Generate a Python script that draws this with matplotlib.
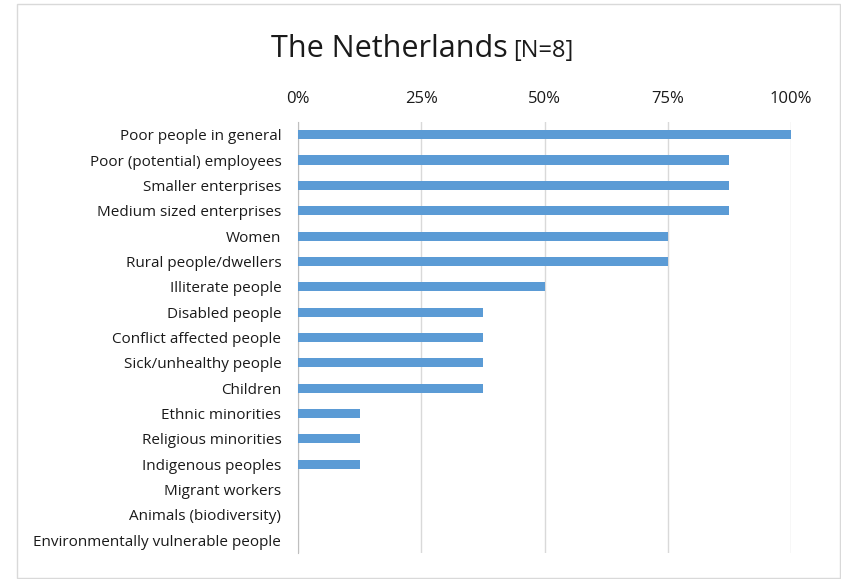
import matplotlib.pyplot as plt
from matplotlib.patches import Rectangle
from matplotlib.ticker import PercentFormatter

categories = [
    "Poor people in general",
    "Poor (potential) employees",
    "Smaller enterprises",
    "Medium sized enterprises",
    "Women",
    "Rural people/dwellers",
    "Illiterate people",
    "Disabled people",
    "Conflict affected people",
    "Sick/unhealthy people",
    "Children",
    "Ethnic minorities",
    "Religious minorities",
    "Indigenous peoples",
    "Migrant workers",
    "Animals (biodiversity)",
    "Environmentally vulnerable people",
]
shares = [100, 87.5, 87.5, 87.5, 75, 75, 50, 37.5, 37.5, 37.5, 37.5,
          12.5, 12.5, 12.5, 0, 0, 0]
ticks = [0, 25, 50, 75, 100]

plt.rcParams['font.family'] = ['Open Sans', 'DejaVu Sans']
txt = '#1a1a1a'

W, H = 841, 579
fig = plt.figure(figsize=(W / 100, H / 100), dpi=100)

# chart frame
fig.patches.append(Rectangle((16.5 / W, 1 - 578 / H), 823.5 / W, 574 / H,
                             transform=fig.transFigure, fill=False,
                             edgecolor='#d9d9d9', linewidth=1))

ax = fig.add_axes([298 / W, 1 - 553 / H, 493 / W, 431 / H])
y = range(len(categories))
ax.barh(y, shares, height=0.36, color='#5b9bd5', zorder=3)

ax.set_xlim(0, 100)
ax.set_ylim(len(categories) - 0.5, -0.5)
ax.set_yticks(list(y))
ax.set_yticklabels(categories, fontsize=11)
ax.set_xticks(ticks)
ax.xaxis.set_major_formatter(PercentFormatter(decimals=0))
ax.xaxis.tick_top()
ax.tick_params(axis='x', labelsize=12, length=0, pad=11, colors=txt)
ax.tick_params(axis='y', length=0, pad=12, colors=txt)
ax.grid(axis='x', color='#d9d9d9', linewidth=1, zorder=0)
for side in ['top', 'right', 'bottom']:
    ax.spines[side].set_visible(False)
ax.spines['left'].set_color('#bfbfbf')

fig.text(508 / W, 1 - 57 / H, "The Netherlands", fontsize=22, ha='right',
         va='baseline', color=txt)
fig.text(513 / W, 1 - 57 / H, "[N=8]", fontsize=17, ha='left',
         va='baseline', color=txt)

fig.savefig("out.png", dpi=100)
